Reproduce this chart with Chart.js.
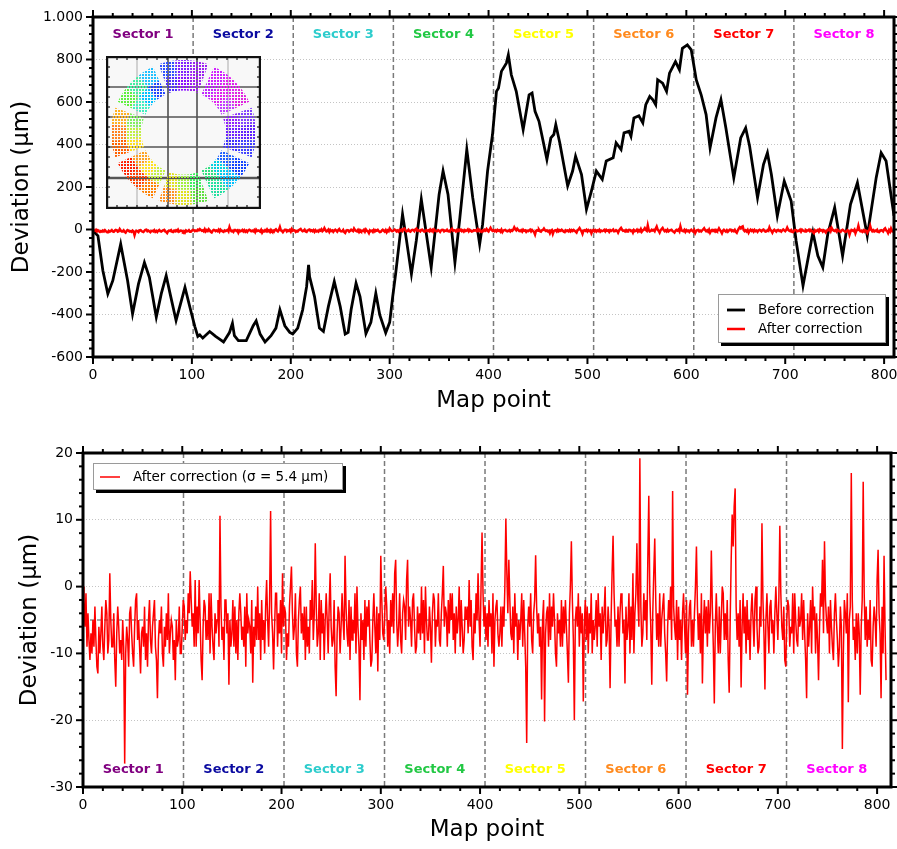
<!DOCTYPE html>
<html>
<head>
<meta charset="utf-8">
<title>Deviation before and after correction</title>
<script src="https://cdn.jsdelivr.net/npm/chart.js@4.4.1/dist/chart.umd.min.js"></script>
<style>
  body { margin: 0; background: #fff; }
  #wrap { position: relative; width: 897px; height: 849px; }
  canvas { position: absolute; }
</style>
</head>
<body>
<div id="wrap">
  <canvas id="topChart" width="897" height="420" style="left:0;top:0"></canvas>
  <canvas id="bottomChart" width="897" height="419" style="left:0;top:430px"></canvas>
  <canvas id="insetChart" width="155" height="153" style="left:106px;top:56px"></canvas>
</div>
<script>
// sectors along the map
const sectorNames = ['Sector 1', 'Sector 2', 'Sector 3', 'Sector 4', 'Sector 5', 'Sector 6', 'Sector 7', 'Sector 8'];
const sectorColors = ['#800080', '#0a0aa0', '#2ccccc', '#22c844', '#ffff00', '#ff8a1e', '#ff0000', '#ff00ff'];
const sectorEdges = [101.25, 202.5, 303.75, 405, 506.25, 607.5, 708.75];
const sectorCenters = [50.6, 151.9, 253.1, 354.4, 455.6, 556.9, 658.1, 759.4];

// tick labels
const xTickValues = [0, 100, 200, 300, 400, 500, 600, 700, 800];
const topYTicks = [-600, -400, -200, 0, 200, 400, 600, 800, 1000];
const bottomYTicks = [-30, -20, -10, 0, 10, 20];

// before correction, [map point, deviation µm]
const beforeCorrection = [
  [0,-6],[5,-30],[10,-194],[15,-303],[20,-241],[28,-69],[35,-241],[40,-397],[46,-256],[52,-155],
  [57,-225],[64,-412],[69,-303],[74,-217],[78,-303],[84,-428],[93,-272],[98,-366],[103,-457],[106,-503],
  [108,-496],[111,-511],[118,-480],[124,-503],[128,-516],[132,-529],[138,-485],[141,-441],[143,-500],[147,-523],
  [155,-523],[162,-453],[165,-430],[169,-492],[174,-529],[180,-500],[185,-464],[189,-378],[194,-453],[199,-484],
  [202,-492],[207,-464],[212,-378],[216,-269],[218,-167],[219,-222],[224,-316],[229,-464],[233,-480],[238,-363],
  [244,-245],[250,-363],[255,-492],[258,-484],[261,-378],[266,-253],[270,-316],[276,-490],[281,-437],[286,-300],
  [290,-402],[296,-486],[300,-437],[303,-319],[306,-210],[313,72],[317,-50],[322,-210],[327,-50],[332,142],
  [342,-178],[350,165],[354,275],[359,165],[366,-155],[371,56],[378,376],[384,150],[391,-69],[394,25],
  [399,275],[404,447],[408,650],[410,665],[413,744],[418,783],[420,822],[423,728],[428,650],[435,470],
  [441,634],[444,642],[447,556],[451,509],[459,330],[463,431],[466,447],[468,494],[472,408],[480,205],
  [485,275],[488,345],[494,259],[499,95],[504,181],[509,275],[515,236],[519,322],[526,337],[529,408],
  [534,376],[537,455],[542,462],[544,439],[547,525],[552,535],[556,502],[559,587],[563,626],[566,611],
  [569,587],[571,705],[576,689],[580,650],[583,736],[589,790],[593,752],[596,853],[601,869],[605,845],
  [610,705],[615,634],[620,541],[624,384],[630,525],[635,611],[640,478],[648,244],[655,431],[660,478],
  [664,392],[672,150],[678,306],[682,361],[686,259],[692,64],[699,228],[706,134],[711,-53],[718,-264],
  [728,-14],[733,-124],[738,-178],[743,-22],[750,103],[758,-124],[766,119],[773,220],[783,-30],[792,244],
  [797,361],[802,322],[810,64]
];

// after correction, one value per map point (µm), 30 points per row
const afterCorrection = [
  0,-2,-6,-1,-9,-4,-8,-11,-7,-10,-5,-9,-3,-8,-12,-13,-6,-10,-7,-3,-9,-11,-6,-2,-4,-10,-8,2,-5,-9,
  -9,-4,-11,-15,-7,-3,-6,-10,-8,-11,-5,-9,-26.5,-10,-6,-8,-12,-4,-3,-7,-10,-12,-6,-2,-1,-8,-5,-9,-13,-7,
  -6,-9,-3,-11,-7,-12,-5,-2,-8,-10,-6,-4,-2,-9,-11,-16.7,-8,-5,-7,-3,-10,-12,-6,-9,-4,-8,-1,-10,-7,-5,
  -6,-11,-8,-14,-5,-9,-8,-3,-10,-10,-6,-2,-3,-8,-5,-7,-1,-4,2.3,-2,-6,-4,-9,1,-9,-3,-7,1,-5,-11,
  -14,-6,-2,-3,-8,-5,-8,-1,-10,-1,-6,-9,-11,-4,-7,-5,-2,-9,10.6,-3,-8,-6,-11,-2,-2,-7,-4,-14.7,-5,-9,
  -7,-2,-9,-3,-10,-5,-11,-4,-1,-4,-8,-6,-9,-3,-12,-1,-7,-5,-6,-10,-2,-14.4,-6,-9,-3,-8,0,-8,-4,-11,
  -2,-8,-5,-10,-3,1,-5,-9,-2,11.3,-4,-7,-12.4,-6,-1,-1,-9,-4,-7,-2,-10,2,-6,-3,-4,-11,-7,-9,-3,0,
  3,-4,-8,-6,-1,-10,-12,-5,-2,0,-7,-4,-8,-3,-11,-3,-9,-6,-10,-2,-5,1,-8,-4,6.5,-3,-9,-7,-1,-11,
  -2,-7,-4,-11,-5,-1,-5,-10,-3,2,-6,-9,-8,-2,-12,-16.4,-7,-3,-4,-10,-6,-1,-5,-8,4.6,-3,-7,-9,-2,-11,
  -3,-8,-5,-7,-1,-10,0,-6,-9,-17,-4,-8,-5,-11,-2,-9,-3,-6,-2,-8,-12,-11,-5,-1,-6,-10,-3,-12.7,-4,-8,
  4.6,-2,-7,-8,-4,0,-3,-9,-5,-10,-2,-6,-1,-7,2,4,-5,-9,-6,-1,-8,-10,-4,-2,-3,-8,1,4,-6,-3,
  -5,-9,-2,-1,-6,-10,-9,-3,-7,-4,-8,0,-7,-2,-10,0,-5,-8,-8,-3,-6,-11.4,-4,-1,-2,-9,-5,-6,-1,-8,
  -9,-4,-1,3.1,-6,-3,-4,-9,-2,-7,-1,-5,-1,-8,-4,-10,-3,-7,-5,0,-9,-2,-6,-10,-8,-3,-5,-3,-7,1,
  -6,-2,-9,-11,-4,-7,-1,-5,2,-5,-9,0,8.1,-1,-6,-3,-8,-4,-9,-2,-6,-4,-10,-1,-12,-5,-3,-2,-7,-9,
  -7,-3,-9,-3,-6,0,10.2,2,-4,4,-2,-7,-8,-3,-10,-1,-6,-4,-11,-5,-8,-5,-1,-9,-2,-7,-12,-23.4,-6,-3,
  -6,-1,-8,-10,-4,-2,4.7,-3,-7,-4,-9,-6,-16.9,-5,-2,-20.2,-7,-4,-3,-9,-1,-8,-3,-6,-1,-5,-10,-12,-4,-7,
  -5,-9,-2,-9,-3,-7,-2,-6,-10,-14.4,-4,0,6.8,-2,-8,-20,-5,-3,-6,-1,-9,-3,-7,-4,-17.2,-6,-2,-8,-3,-10,
  -4,-7,-1,-10,-5,-8,-6,-2,-9,-1,-6,-4,-11,-3,-7,-4,0,-9,-8,-3,-6,-15.2,-5,2,7.6,-1,-6,-5,-9,-3,
  -9,-4,-1,-2,-7,-5,-14.5,-3,-8,-6,-1,-10,-3,-8,2,-10,-4,-1,6.5,-2,-6,19.2,-3,-9,-7,-1,-5,-2,-8,4,
  13.6,-1,-6,-14.7,-4,2,7.2,-2,-8,-4,-9,-1,-9,-5,-3,-1,-7,-10,-14.2,-6,-2,-5,0,-8,14.3,-3,-6,-8,-2,-11,
  -3,-8,-5,-11,-4,-1,-6,-10,-2,-16.2,-7,-3,-2,-9,-5,-9,-4,0,6,-3,-8,-4,-10,-1,-14.5,-6,-2,-7,-3,-9,
  -2,-7,-4,5.4,-3,-9,-17.5,-6,-1,-6,-10,-3,-10,-5,0,-1,-8,-4,-8,-2,-11,-15.9,-5,4,10.8,6,12,14.7,-3,-8,
  -4,-9,-2,-15.1,-6,-1,-7,-3,-10,-2,-8,-5,-11,-4,-1,-5,-9,-2,0,-6,-10,-9,-3,-6,9.5,-2,-7,-15.4,-5,-1,
  -6,-10,-3,-2,-7,-5,-10,-4,0,-4,-8,-2,9.1,-1,-6,-8,-3,-11,-12,-5,-2,-3,-9,-6,-7,-1,-10,-1,-5,-8,
  -9,-3,-6,-5,-1,-8,-2,-7,-11,-16.7,-4,-9,-6,-2,-10,0,-5,-3,-10,-4,-8,-14,-6,-1,-3,4,-7,6.8,-2,-5,
  -7,-3,-10,-2,-6,-9,-11,-4,-1,-5,-8,-12,-9,-3,-6,-24.3,-10,-2,-4,-7,-1,-17.3,-5,-3,17,-2,-8,-6,-11,-4,
  -10,-4,-7,-16.2,-6,-2,15.7,-1,-8,-3,-9,-5,-8,-2,-11,-12,-6,-3,-5,-9,1,5.5,-4,-7,-16.7,-3,-10,4.6,-6,-14
];
const meanLevel = -5;
const sigma = 5.4;

// inset: ring of the 8 sectors (outer / inner half, 3 cells per sector)
const insetArcs = [13.3,13.3,13.4,5, 13.3,13.3,13.4,5, 13.3,13.3,13.4,5, 13.3,13.3,13.4,5,
                   13.3,13.3,13.4,5, 13.3,13.3,13.4,5, 13.3,13.3,13.4,5, 13.3,13.3,13.4,5];
const insetOuter = [
  ['#3050ff', '#8020ff', '#9a20f0'], ['#d020ff', '#e020f0', '#e020e0'],
  ['#8040ff', '#6020ff', '#4040ff'], ['#1040ff', '#00c0ff', '#20e0a0'],
  ['#60e040', '#e0e020', '#ff9020'], ['#ff8000', '#ff4000', '#ff2000'],
  ['#ff6000', '#ff8020', '#ffb020'], ['#60f040', '#40f0a0', '#20c0ff']
];
const insetInner = [
  ['#5030ff', '#8a10ff', '#a020f0'], ['#c020ff', '#e020f0', '#c040ff'],
  ['#9020ff', '#7020ff', '#4030ff'], ['#2060ff', '#00d0e0', '#30e080'],
  ['#40f060', '#a0f040', '#e0e020'], ['#c0f040', '#ffe020', '#ffa020'],
  ['#ffe020', '#c0f040', '#80f060'], ['#40f0c0', '#00c0ff', '#2040ff']
];

Chart.defaults.font.family = '"DejaVu Sans", Verdana, sans-serif';
Chart.defaults.color = '#000';

function line(ctx, x1, y1, x2, y2) {
  ctx.beginPath(); ctx.moveTo(x1, y1); ctx.lineTo(x2, y2); ctx.stroke();
}
const fixedTicks = values => scale => { scale.ticks = values.map(v => ({ value: v })); };
// fixed axis thickness, no extra room for overhanging labels
const fitX = h => s => { s.height = h; s.paddingLeft = 0; s.paddingRight = 0; };
const fitY = w => s => { s.width = w; s.paddingTop = 0; s.paddingBottom = 0; };

const framePlugin = {
  id: 'frame',
  beforeDatasetsDraw(chart, args, o) {
    const { ctx, chartArea: a, scales: { x } } = chart;
    ctx.save();
    ctx.strokeStyle = '#7a7a7a';
    ctx.lineWidth = 1.5;
    ctx.setLineDash([5, 3]);
    sectorEdges.forEach(v => {
      const px = x.getPixelForValue(v);
      line(ctx, px, a.top, px, a.bottom);
    });
    ctx.restore();
  },
  afterDatasetsDraw(chart, args, o) {
    const { ctx, chartArea: a, scales: { x, y } } = chart;
    ctx.save();
    // sector names
    ctx.font = 'bold 13px "DejaVu Sans"';
    ctx.textAlign = 'center';
    ctx.textBaseline = 'middle';
    sectorNames.forEach((s, i) => {
      ctx.fillStyle = sectorColors[i];
      ctx.fillText(s, x.getPixelForValue(sectorCenters[i]), o.labelY(a));
    });
    // frame and ticks
    ctx.strokeStyle = '#000';
    ctx.lineWidth = 3;
    ctx.strokeRect(a.left, a.top, a.width, a.height);
    ctx.lineWidth = 2;
    for (let v = 0; v <= x.max + 1e-6; v += 20) {
      const px = x.getPixelForValue(v);
      const len = v % 100 === 0 ? 7 : 4;
      line(ctx, px, a.bottom, px, a.bottom + len);
      line(ctx, px, a.top, px, a.top - len);
    }
    for (let v = y.min; v <= y.max + 1e-6; v += o.yMinor) {
      const py = y.getPixelForValue(v);
      const len = Math.abs(v % o.yMajor) < 1e-6 ? 7 : 4;
      line(ctx, a.left, py, a.left - len, py);
      line(ctx, a.right, py, a.right + len, py);
    }
    // legend box with shadow
    const lg = o.legend;
    ctx.fillStyle = '#000';
    ctx.fillRect(lg.x + 3, lg.y + 3, lg.w, lg.h);
    ctx.fillStyle = '#fff';
    ctx.fillRect(lg.x, lg.y, lg.w, lg.h);
    ctx.strokeStyle = '#9a9a9a';
    ctx.lineWidth = 1;
    ctx.strokeRect(lg.x + 0.5, lg.y + 0.5, lg.w - 1, lg.h - 1);
    ctx.font = '13.5px "DejaVu Sans"';
    ctx.textAlign = 'left';
    lg.items.forEach(it => {
      const ds = chart.data.datasets[it.ds];
      const yy = lg.y + it.dy;
      ctx.strokeStyle = ds.borderColor;
      ctx.lineWidth = ds.borderWidth;
      line(ctx, lg.x + it.x1, yy, lg.x + it.x2, yy);
      ctx.fillStyle = '#000';
      ctx.fillText(ds.label, lg.x + 40, yy);
    });
    ctx.restore();
  }
};

const afterPoints = afterCorrection.map((v, i) => ({ x: i, y: v }));

new Chart(document.getElementById('topChart'), {
  type: 'line',
  data: {
    datasets: [
      { label: 'After correction', data: afterPoints, borderColor: '#ff0000', borderWidth: 2.5, pointRadius: 0 },
      { label: 'Before correction', data: beforeCorrection.map(p => ({ x: p[0], y: p[1] })),
        borderColor: '#000', borderWidth: 2.8, pointRadius: 0 }
    ]
  },
  options: {
    responsive: false,
    animation: false,
    events: [],
    layout: { padding: { top: 17, right: 3, left: 0, bottom: 0 } },
    scales: {
      x: {
        type: 'linear', min: 0, max: 810,
        afterFit: fitX(63),
        afterBuildTicks: fixedTicks(xTickValues),
        ticks: { autoSkip: false, maxRotation: 0, padding: 10, font: { size: 14 } },
        grid: { display: false, drawTicks: false },
        border: { display: false },
        title: { display: true, text: 'Map point', font: { size: 23 }, padding: { bottom: 5 } }
      },
      y: {
        min: -600, max: 1000,
        afterFit: fitY(93),
        afterBuildTicks: fixedTicks(topYTicks),
        ticks: { padding: 10, font: { size: 14 },
                 callback: v => v === 1000 ? '1.000' : String(v) },
        grid: { color: '#c4c4c4', lineWidth: 1, drawTicks: false },
        border: { display: false, dash: [1, 2] },
        title: { display: true, text: 'Deviation (µm)', font: { size: 23 }, padding: { top: 8 } }
      }
    },
    plugins: {
      legend: { display: false },
      tooltip: { enabled: false },
      frame: {
        yMajor: 200, yMinor: 40,
        labelY: a => a.top + 18,
        legend: { x: 718, y: 294, w: 168, h: 49,
                  items: [{ ds: 1, dy: 16, x1: 9, x2: 27 }, { ds: 0, dy: 35, x1: 9, x2: 27 }] }
      }
    }
  },
  plugins: [framePlugin]
});

new Chart(document.getElementById('bottomChart'), {
  type: 'line',
  data: {
    datasets: [
      { label: 'After correction (σ = ' + sigma + ' µm)', data: afterPoints,
        borderColor: '#ff0000', borderWidth: 1.5, pointRadius: 0 },
      { label: 'mean', data: [{ x: 0, y: meanLevel }, { x: 814, y: meanLevel }],
        borderColor: '#555', borderWidth: 1.2, borderDash: [4, 3], pointRadius: 0 }
    ]
  },
  options: {
    responsive: false,
    animation: false,
    events: [],
    layout: { padding: { top: 23, right: 6, left: 0, bottom: 0 } },
    scales: {
      x: {
        type: 'linear', min: 0, max: 814,
        afterFit: fitX(62),
        afterBuildTicks: fixedTicks(xTickValues),
        ticks: { autoSkip: false, maxRotation: 0, padding: 10, font: { size: 14 } },
        grid: { display: false, drawTicks: false },
        border: { display: false },
        title: { display: true, text: 'Map point', font: { size: 23 }, padding: { bottom: 5 } }
      },
      y: {
        min: -30, max: 20,
        afterFit: fitY(83),
        afterBuildTicks: fixedTicks(bottomYTicks),
        ticks: { padding: 10, font: { size: 14 } },
        grid: { color: '#c4c4c4', lineWidth: 1, drawTicks: false },
        border: { display: false, dash: [1, 2] },
        title: { display: true, text: 'Deviation (µm)', font: { size: 23 }, padding: { top: 16 } }
      }
    },
    plugins: {
      legend: { display: false },
      tooltip: { enabled: false },
      frame: {
        yMajor: 10, yMinor: 2,
        labelY: a => a.bottom - 17,
        legend: { x: 93, y: 33, w: 250, h: 27,
                  items: [{ ds: 0, dy: 14, x1: 7, x2: 27 }] }
      }
    }
  },
  plugins: [framePlugin]
});

// inset ring map
function dotPattern(color) {
  const c = document.createElement('canvas');
  c.width = 3; c.height = 3;
  const g = c.getContext('2d');
  g.fillStyle = color;
  g.fillRect(0, 0, 2, 2);
  return g.createPattern(c, 'repeat');
}
function ringColors(patches) {
  const out = [];
  patches.forEach(p => { p.forEach(c => out.push(dotPattern(c))); out.push('rgba(0,0,0,0)'); });
  return out;
}

const insetPlugin = {
  id: 'insetFrame',
  beforeDraw(chart) {
    const { ctx, width, height } = chart;
    ctx.save();
    ctx.fillStyle = '#f8f8f8';
    ctx.fillRect(0, 0, width, height);
    ctx.lineWidth = 1.5;
    [[31, '#c4c4c4'], [62, '#444'], [91, '#444'], [122, '#c4c4c4']].forEach(([v, c]) => {
      ctx.strokeStyle = c; line(ctx, v, 0, v, height);
    });
    [[31, 1.5], [61, 1.5], [91, 1.5], [122, 2.5]].forEach(([v, w]) => {
      ctx.strokeStyle = '#555'; ctx.lineWidth = w; line(ctx, 0, v, width, v);
    });
    ctx.restore();
  },
  afterDraw(chart) {
    const { ctx, width, height } = chart;
    ctx.save();
    ctx.strokeStyle = '#111';
    ctx.lineWidth = 1.2;
    for (let p = 11; p < width - 4; p += 10) {
      line(ctx, p, height - 1, p, height - 4);
      line(ctx, p, 1, p, 4);
    }
    for (let p = 11; p < height - 4; p += 10) {
      line(ctx, 1, p, 4, p);
      line(ctx, width - 1, p, width - 4, p);
    }
    ctx.lineWidth = 2.2;
    ctx.strokeRect(1.1, 1.1, width - 2.2, height - 2.2);
    ctx.restore();
  }
};

new Chart(document.getElementById('insetChart'), {
  type: 'doughnut',
  data: {
    datasets: [
      { data: insetArcs, backgroundColor: ringColors(insetOuter), borderWidth: 0 },
      { data: insetArcs, backgroundColor: ringColors(insetInner), borderWidth: 0 }
    ]
  },
  options: {
    responsive: false,
    animation: false,
    events: [],
    rotation: -20,
    cutout: '58%',
    layout: { padding: 4 },
    plugins: { legend: { display: false }, tooltip: { enabled: false } }
  },
  plugins: [insetPlugin]
});
</script>
</body>
</html>
